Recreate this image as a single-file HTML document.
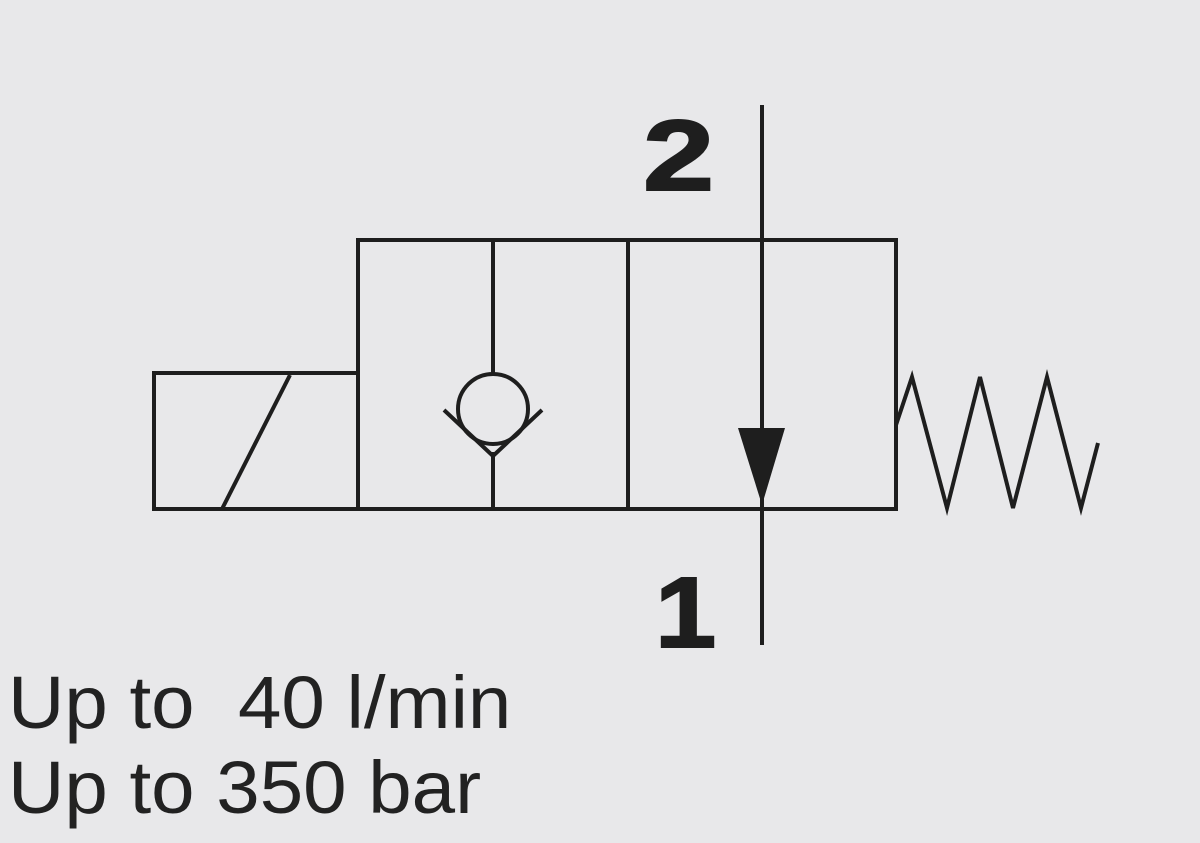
<!DOCTYPE html>
<html><head><style>
html,body{margin:0;padding:0;background:#e8e8ea;}
body{width:1200px;height:843px;position:relative;overflow:hidden;}
.t{position:absolute;left:8px;font-family:"Liberation Sans",sans-serif;font-size:74px;color:#222;line-height:1;white-space:pre;transform:scaleX(1.055);transform-origin:0 0;}
</style></head><body>
<svg width="1200" height="843" style="position:absolute;left:0;top:0">
<g stroke="#1e1e1e" stroke-width="4" fill="none" stroke-linejoin="miter">
<rect x="358" y="240" width="538" height="269"/>
<rect x="154" y="373" width="204" height="136"/>
<line x1="222" y1="509" x2="290" y2="375"/>
<line x1="628" y1="240" x2="628" y2="509"/>
<line x1="493" y1="240" x2="493" y2="374"/>
<line x1="493" y1="452" x2="493" y2="509"/>
<circle cx="493" cy="409" r="35"/>
<polyline points="444,410 493,456 542,410"/>
<line x1="762" y1="105" x2="762" y2="645"/>
<polyline points="896,425 912,377 947,508 980,377 1013,508 1047,377 1081,508 1098,443"/>
</g>
<polygon points="738,428 785,428 762,505" fill="#1e1e1e"/>
<text x="0" y="0" transform="translate(643,190) scale(1.28,1)" font-family="Liberation Sans,sans-serif" font-weight="bold" font-size="100" fill="#1e1e1e" stroke="#1e1e1e" stroke-width="2">2</text>
<text x="0" y="0" transform="translate(655,647) scale(1.1,1)" font-family="Liberation Sans,sans-serif" font-weight="bold" font-size="100" fill="#1e1e1e" stroke="#1e1e1e" stroke-width="2">1</text>
</svg>
<div class="t" style="top:666px">Up to  40 l/min</div>
<div class="t" style="top:751px">Up to 350 bar</div>
</body></html>
